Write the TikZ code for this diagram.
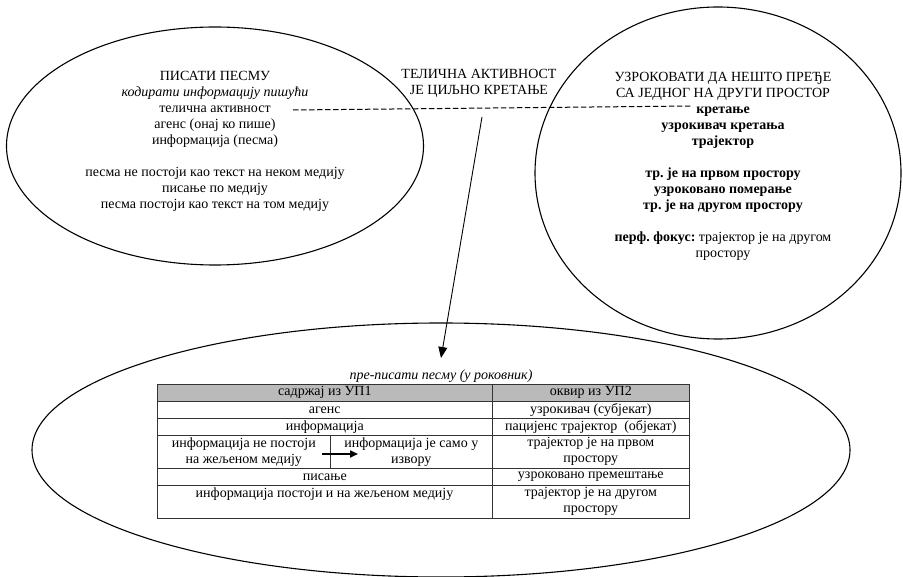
\documentclass[tikz,border=0pt]{standalone}
\usepackage{fontspec}
\setmainfont[Script=Cyrillic,Language=Serbian]{Liberation Serif}
\usetikzlibrary{arrows.meta,shapes.geometric}
\frenchspacing
\begin{document}
\begin{tikzpicture}[x=1pt,y=-1pt,
  every node/.style={font=\fontsize{14}{16}\selectfont, inner sep=0pt},
  oval/.style={draw, ellipse, line width=1.1pt},
  txt/.style={align=center},
  cell/.style={draw=black!80, line width=0.6pt, anchor=north west, align=center},
  headcell/.style={cell, fill=black!27},
  dashline/.style={line width=1pt, dash pattern=on 5.5pt off 2.5pt},
  bigarrow/.style={line width=0.9pt, -{Triangle[length=11pt,width=9pt]}},
  smallarrow/.style={line width=1.8pt, -{Triangle[length=8pt,width=7pt]}}]
\useasboundingbox (0,0) rectangle (903,577);

% ellipses
\node[oval, minimum width=417, minimum height=238] (L) at (215,146) {};
\node[oval, minimum width=366, minimum height=332] (R) at (718,173) {};
\node[oval, minimum width=818, minimum height=254] (B) at (441,450) {};

% left text
\node[txt] (Ltxt) at (215,141) {ПИСАТИ ПЕСМУ\\
{\itshape кодирати информацију пишући}\\
телична активност\\
агенс (онај ко пише)\\
информација (песма)\\[16pt]
песма не постоји као текст на неком медију\\
писање по медију\\
песма постоји као текст на том медију};

% middle text
\node[txt] (M) at (479,83.5) {ТЕЛИЧНА АКТИВНОСТ\\ЈЕ ЦИЉНО КРЕТАЊЕ};

% right text
\node[txt] (Rtxt) at (723,166) {УЗРОКОВАТИ ДА НЕШТО ПРЕЂЕ\\
СА ЈЕДНОГ НА ДРУГИ ПРОСТОР\\
\textbf{кретање}\\
\textbf{узрокивач кретања}\\
\textbf{трајектор}\\[16pt]
\textbf{тр. је на првом простору}\\
\textbf{узроковано померање}\\
\textbf{тр. је на другом простору}\\[16pt]
\textbf{перф. фокус:} трајектор је на другом\\
простору};

% dashed link
\coordinate (dL) at (293,110);
\coordinate (dR) at (692,106);
\draw[dashline] (dL) -- (dR);

% caption
\node[font=\fontsize{14}{16}\selectfont\itshape] (cap) at (441,376) {пре-писати песму (у роковник)};

% main arrow
\coordinate (aS) at (482,117);
\coordinate (aE) at (441,358);
\draw[bigarrow] (aS) -- (aE);

% table
\node[headcell, minimum width=335, minimum height=17] (h1) at (157,384) {садржај из УП1};
\node[headcell, minimum width=197, minimum height=17] (h2) at (492,384) {оквир из УП2};
\node[cell, minimum width=335, minimum height=17] (a1) at (157,401) {агенс};
\node[cell, minimum width=197, minimum height=17] (a2) at (492,401) {узрокивач (субјекат)};
\node[cell, minimum width=335, minimum height=17] (b1) at (157,418) {информација};
\node[cell, minimum width=197, minimum height=17] (b2) at (492,418) {пацијенс трајектор\ \ (објекат)};
\node[cell, minimum width=173, minimum height=33] (c1) at (157,435) {информација не постоји\\на жељеном медију};
\node[cell, minimum width=162, minimum height=33] (c1b) at (330,435) {информација је само у\\извору};
\node[cell, minimum width=197, minimum height=33] (c2) at (492,435) {трајектор је на првом\\простору};
\node[cell, minimum width=335, minimum height=17] (d1) at (157,468) {писање};
\node[cell, minimum width=197, minimum height=17] (d2) at (492,468) {узроковано премештање};
\node[cell, minimum width=335, minimum height=33] (e1) at (157,485) {};
\node[anchor=center] (e1t) at (324.5,494) {информација постоји и на жељеном медију};
\node[cell, minimum width=197, minimum height=33] (e2) at (492,485) {трајектор је на другом\\простору};

\coordinate (sA) at (322,454);
\coordinate (sB) at (358,454);
\draw[smallarrow] (sA) -- (sB);
\end{tikzpicture}
\end{document}
